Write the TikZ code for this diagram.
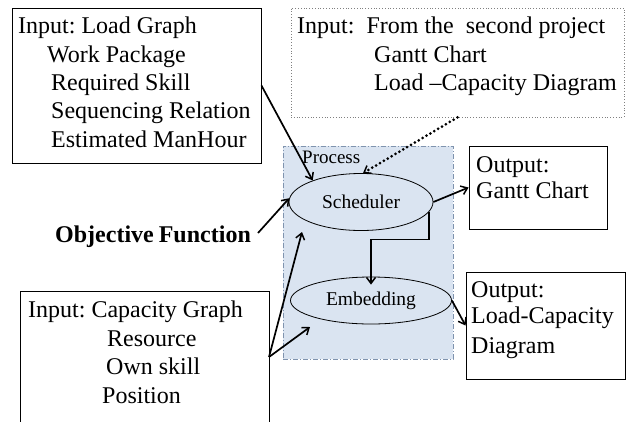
\documentclass[tikz,border=0pt]{standalone}
\usepackage{fontspec}
\setmainfont{Liberation Serif}
\usetikzlibrary{shapes.geometric,arrows.meta,calc}
\definecolor{procfill}{HTML}{DAE4F1}
\definecolor{procedge}{HTML}{7F93AE}
\frenchspacing
\begin{document}
\begin{tikzpicture}[x=1pt,y=-1pt,
  txt/.style={anchor=base west,inner sep=0,font=\fontsize{24}{28}\selectfont},
  smalltxt/.style={anchor=base west,inner sep=0,font=\fontsize{19}{22}\selectfont},
  boxed/.style={draw,rectangle,line width=0.9pt,inner sep=0},
  ell/.style={draw,ellipse,inner sep=0,line width=0.8pt,font=\fontsize{19.5}{22}\selectfont},
  arr/.style={-{Straight Barb[length=6pt,width=9pt,line width=1.5pt]},line width=1.7pt},
  dotarr/.style={-{Straight Barb[length=6pt,width=9pt,line width=1.5pt]},line width=3pt,line cap=round,dash pattern=on 0pt off 4.5pt}]
\useasboundingbox (0,0) rectangle (626,421);

% boxes
\node[boxed,minimum width=249pt,minimum height=155pt] (load) at (136.5,85.5) {};
\node[draw=gray,dotted,line width=0.8pt,rectangle,inner sep=0,minimum width=333pt,minimum height=109pt] (proj) at (457.5,62.5) {};
\node[draw=procedge,fill=procfill,dash pattern=on 5pt off 2pt on 1pt off 2pt,line width=0.9pt,rectangle,inner sep=0,minimum width=170pt,minimum height=213pt] (proc) at (368,252.5) {};
\node[boxed,minimum width=138pt,minimum height=83pt] (gantt) at (538,187.5) {};
\node[boxed,minimum width=159pt,minimum height=107pt] (lc) at (545.5,325.5) {};
\node[rectangle,inner sep=0,minimum width=248pt,minimum height=131pt] (cap) at (145,357.5) {};
\draw[line width=0.9pt] (cap.south west) |- (cap.north east) -- (cap.south east);

% load graph text
\node[txt] (l1) at (18,33) {Input: Load Graph};
\node[txt] (l2) at (47,62) {Work Package};
\node[txt] (l3) at (51,90) {Required Skill};
\node[txt] (l4) at (51,118) {Sequencing Relation};
\node[txt] (l5) at (51,147) {Estimated ManHour};

% second project text
\node[txt] (p1) at (297,33) {Input:\ \ From the\ \ second project};
\node[txt] (p2) at (374,62) {Gantt Chart};
\node[txt] (p3) at (374,90) {Load –Capacity Diagram};

% capacity text
\node[txt] (c1) at (28,317) {Input: Capacity Graph};
\node[txt] (c2) at (107,346) {Resource};
\node[txt] (c3) at (106,374) {Own skill};
\node[txt] (c4) at (102,403) {Position};

% outputs
\node[txt] (g1) at (476,172) {Output:};
\node[txt] (g2) at (476,198) {Gantt Chart};
\node[txt] (o1) at (471,297) {Output:};
\node[txt] (o2) at (471,323) {Load-Capacity};
\node[txt] (o3) at (471,353) {Diagram};

% objective
\node[txt,font=\fontsize{24}{28}\selectfont\bfseries] (obj) at (55,242) {Objective\hspace{-1pt} Function};

% process
\node[smalltxt] (ptitle) at (302,163) {Process};
\node[ell,minimum width=144pt,minimum height=57pt] (sched) at (361,202) {Scheduler};
\node[ell,minimum width=161pt,minimum height=47pt] (emb) at (371,300.5) {Embedding};

% free ends
\coordinate (capc) at (269,357);
\coordinate (schedin) at (302,232);
\coordinate (embin) at (310,327);
\coordinate (objout) at (258,233);

% connectors
\draw[arr] (load.east) -- (sched.156);
\draw[dotarr] (proj.south) -- (sched.86);
\draw[arr] (objout) -- (sched.177);
\draw[arr] (capc) -- (schedin);
\draw[arr] (capc) -- (embin);
\draw[arr] (sched.east) -- (gantt.west);
\draw[arr] (sched.352) -- ++(0,28) -| ([yshift=-8pt]emb.north);
\draw[arr] (emb.east) -- (lc.west);
\end{tikzpicture}
\end{document}
